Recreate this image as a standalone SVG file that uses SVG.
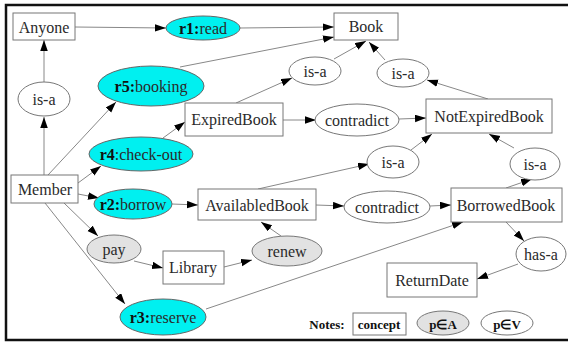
<svg xmlns="http://www.w3.org/2000/svg" width="568" height="342" viewBox="0 0 568 342">
  <defs>
    <marker id="arr" markerUnits="userSpaceOnUse" markerWidth="12" markerHeight="9" refX="11" refY="3.75" orient="auto">
      <path d="M0,0 L11,3.75 L0,7.5 z" fill="#000"/>
    </marker>
    <style>
      text { font-family: "Liberation Serif", "Times New Roman", serif; font-size: 16px; fill: #2a2a2a; text-anchor: middle; dominant-baseline: central; }
      .concept { fill: #fff; stroke: #777; stroke-width: 1; }
      .rule { fill: #00f0f0; stroke: #666; stroke-width: 1; }
      .act { fill: #e2e2e2; stroke: #777; stroke-width: 1; }
      .val { fill: #fff; stroke: #777; stroke-width: 1; }
      .edge { fill: none; stroke: #888; stroke-width: 1; marker-end: url(#arr); }
      .b { font-weight: bold; fill: #111; }
      .note { font-size: 13px; font-weight: bold; fill: #111; }
    </style>
  </defs>
  <rect width="568" height="342" fill="#fff"/>
  <path d="M568,5 H6 V340 H568" fill="none" stroke="#111" stroke-width="2.5"/>

  <g id="connectors">
    <line class="edge" x1="75" y1="27" x2="166" y2="28"/>
    <line class="edge" x1="240" y1="28" x2="334" y2="27"/>
    <line class="edge" x1="180" y1="67" x2="334" y2="37"/>
    <line class="edge" x1="44" y1="82" x2="44" y2="40"/>
    <line class="edge" x1="44" y1="175" x2="44" y2="117"/>
    <line class="edge" x1="48" y1="175" x2="116" y2="102"/>
    <line class="edge" x1="78" y1="183" x2="101" y2="166"/>
    <line class="edge" x1="78" y1="194" x2="99" y2="198"/>
    <line class="edge" x1="64" y1="203" x2="98" y2="236"/>
    <line class="edge" x1="45" y1="203" x2="125" y2="304"/>
    <line class="edge" x1="163" y1="138" x2="185" y2="122"/>
    <line class="edge" x1="236" y1="103" x2="292" y2="78"/>
    <line class="edge" x1="334" y1="59" x2="366" y2="41"/>
    <line class="edge" x1="488" y1="99" x2="427" y2="80"/>
    <line class="edge" x1="385" y1="60" x2="369" y2="42"/>
    <line class="edge" x1="283" y1="120" x2="316" y2="120"/>
    <line class="edge" x1="399" y1="119" x2="426" y2="118"/>
    <line class="edge" x1="258" y1="189" x2="369" y2="164"/>
    <line class="edge" x1="411" y1="150" x2="432" y2="134"/>
    <line class="edge" x1="514" y1="148" x2="489" y2="134"/>
    <line class="edge" x1="506" y1="188" x2="532" y2="179"/>
    <line class="edge" x1="172" y1="204" x2="198" y2="205"/>
    <line class="edge" x1="316" y1="205" x2="344" y2="206"/>
    <line class="edge" x1="430" y1="206" x2="451" y2="205"/>
    <line class="edge" x1="506" y1="222" x2="524" y2="241"/>
    <line class="edge" x1="518" y1="264" x2="477" y2="279"/>
    <line class="edge" x1="134" y1="261" x2="163" y2="268"/>
    <line class="edge" x1="224" y1="267" x2="252" y2="260"/>
    <line class="edge" x1="281" y1="236" x2="261" y2="222"/>
    <line class="edge" x1="206" y1="309" x2="463" y2="222"/>
  </g>

  <g id="anyone"><rect class="concept" x="13" y="13" width="62" height="27"/><text x="44" y="27">Anyone</text></g>
  <g id="r1-read"><ellipse class="rule" cx="203" cy="28" rx="37" ry="12"/><text x="203" y="28"><tspan class="b">r1:</tspan>read</text></g>
  <g id="book"><rect class="concept" x="334" y="13" width="64" height="27"/><text x="366" y="26">Book</text></g>
  <g id="isa-anyone"><ellipse class="val" cx="44" cy="99" rx="26" ry="17"/><text x="44" y="99">is-a</text></g>
  <g id="r5-booking"><ellipse class="rule" cx="151" cy="86" rx="53" ry="20"/><text x="151" y="86"><tspan class="b">r5:</tspan>booking</text></g>
  <g id="expiredbook"><rect class="concept" x="185" y="103" width="98" height="33"/><text x="234" y="119">ExpiredBook</text></g>
  <g id="r4-checkout"><ellipse class="rule" cx="141" cy="154" rx="52" ry="17"/><text x="141" y="154"><tspan class="b">r4</tspan>:check-out</text></g>
  <g id="isa-expired"><ellipse class="val" cx="315" cy="71" rx="26" ry="14"/><text x="315" y="71">is-a</text></g>
  <g id="isa-notexpired"><ellipse class="val" cx="403" cy="73" rx="26" ry="14"/><text x="403" y="73">is-a</text></g>
  <g id="contradict-1"><ellipse class="val" cx="357" cy="120" rx="42" ry="16"/><text x="357" y="120">contradict</text></g>
  <g id="notexpiredbook"><rect class="concept" x="426" y="99" width="126" height="34"/><text x="489" y="116">NotExpiredBook</text></g>
  <g id="isa-available"><ellipse class="val" cx="393" cy="162" rx="26" ry="16"/><text x="393" y="162">is-a</text></g>
  <g id="isa-borrowed"><ellipse class="val" cx="535" cy="164" rx="25" ry="16"/><text x="535" y="164">is-a</text></g>
  <g id="member"><rect class="concept" x="11" y="175" width="67" height="28"/><text x="45" y="189">Member</text></g>
  <g id="r2-borrow"><ellipse class="rule" cx="133" cy="204" rx="39" ry="15"/><text x="133" y="204"><tspan class="b">r2:</tspan>borrow</text></g>
  <g id="availabledbook"><rect class="concept" x="198" y="189" width="118" height="31"/><text x="257" y="205">AvailabledBook</text></g>
  <g id="contradict-2"><ellipse class="val" cx="387" cy="207" rx="43" ry="16"/><text x="387" y="207">contradict</text></g>
  <g id="borrowedbook"><rect class="concept" x="451" y="188" width="111" height="34"/><text x="506" y="205">BorrowedBook</text></g>
  <g id="pay"><ellipse class="act" cx="114" cy="249" rx="27" ry="14"/><text x="114" y="249">pay</text></g>
  <g id="library"><rect class="concept" x="163" y="251" width="61" height="33"/><text x="193" y="267">Library</text></g>
  <g id="renew"><ellipse class="act" cx="287" cy="251" rx="35" ry="15"/><text x="287" y="251">renew</text></g>
  <g id="has-a"><ellipse class="val" cx="541" cy="254" rx="25" ry="17"/><text x="541" y="254">has-a</text></g>
  <g id="returndate"><rect class="concept" x="387" y="263" width="90" height="34"/><text x="432" y="280">ReturnDate</text></g>
  <g id="r3-reserve"><ellipse class="rule" cx="163" cy="317" rx="43" ry="18"/><text x="163" y="317"><tspan class="b">r3:</tspan>reserve</text></g>

  <g id="notes">
    <text class="note" x="327" y="324">Notes:</text>
    <rect class="concept" x="353" y="313" width="53" height="22" stroke="#333"/>
    <text class="note" x="379" y="324">concept</text>
    <ellipse class="act" cx="443" cy="323" rx="26" ry="12"/>
    <text class="note" x="443" y="324">p∈A</text>
    <ellipse class="val" cx="507" cy="323" rx="26" ry="12"/>
    <text class="note" x="507" y="324">p∈V</text>
  </g>
</svg>
